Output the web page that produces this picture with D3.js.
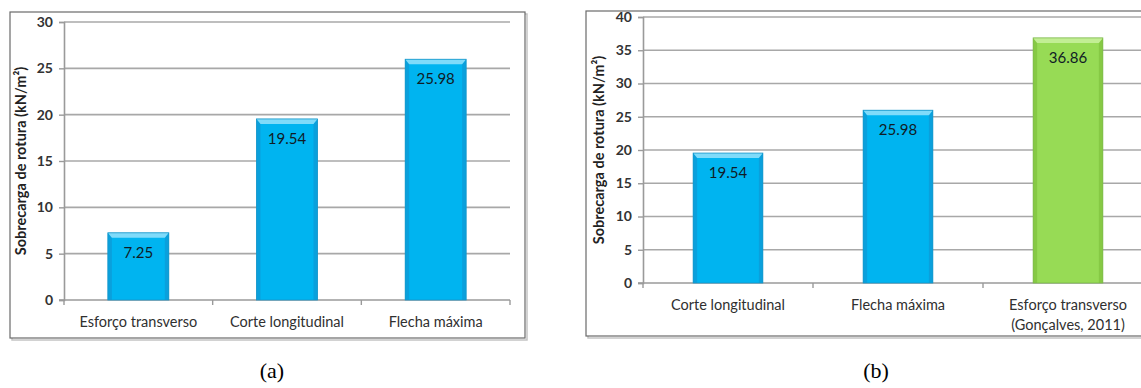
<!DOCTYPE html>
<html>
<head>
<meta charset="utf-8">
<script src="https://cdn.jsdelivr.net/npm/d3@7/dist/d3.min.js"></script>
<style>
  html, body { margin: 0; padding: 0; background: #ffffff; }
  svg { display: block; }
</style>
</head>
<body>
<svg id="fig" width="1141" height="388"></svg>
<script>
// ---- Data -------------------------------------------------------------
const panelACategories = ["Esforço transverso", "Corte longitudinal", "Flecha máxima"];
const panelAValues = [7.25, 19.54, 25.98];
const panelATicks = [0, 5, 10, 15, 20, 25, 30];

const panelBCategories = ["Corte longitudinal", "Flecha máxima", "Esforço transverso\n(Gonçalves, 2011)"];
const panelBValues = [19.54, 25.98, 36.86];
const panelBTicks = [0, 5, 10, 15, 20, 25, 30, 35, 40];

const yAxisTitle = "Sobrecarga de rotura (kN/m²)";
const captions = ["(a)", "(b)"];

// ---- Styles ------------------------------------------------------------
const FONT = "Lato, 'Open Sans', sans-serif";
const palette = {
  blue:  { face: "#00b4f0", top: "#7fdbfa", side: "#0aa0dc", edge: "#1795c8" },
  green: { face: "#97db55", top: "#c2ee94", side: "#86c944", edge: "#7cb84a" }
};

const svg = d3.select("#fig");

function drawPanel(cfg) {
  const g = svg.append("g");

  // frame with a soft drop shadow
  g.append("rect")
    .attr("x", cfg.frame.x + 2).attr("y", cfg.frame.y + 2)
    .attr("width", cfg.frame.w).attr("height", cfg.frame.h)
    .attr("fill", "none").attr("stroke", "#c4c4c4").attr("stroke-width", 1.5);
  g.append("rect")
    .attr("x", cfg.frame.x).attr("y", cfg.frame.y)
    .attr("width", cfg.frame.w).attr("height", cfg.frame.h)
    .attr("fill", "#ffffff").attr("stroke", "#6a6a6a").attr("stroke-width", 1.2);

  const x = d3.scaleBand()
    .domain(cfg.categories)
    .range([cfg.plot.x0, cfg.plot.x1])
    .paddingInner(0.59).paddingOuter(0.295);
  const y = d3.scaleLinear()
    .domain([0, d3.max(cfg.ticks)])
    .range([cfg.plot.y0, cfg.plot.y1]);

  // horizontal gridlines
  g.append("g").selectAll("line")
    .data(cfg.ticks.filter(t => t > 0))
    .join("line")
    .attr("x1", cfg.plot.x0).attr("x2", cfg.plot.x1)
    .attr("y1", d => y(d)).attr("y2", d => y(d))
    .attr("stroke", "#a8a8a8").attr("stroke-width", 1.6);

  // y axis
  const yAxis = g.append("g")
    .attr("transform", `translate(${cfg.plot.x0},0)`)
    .call(d3.axisLeft(y).tickValues(cfg.ticks).tickSize(5).tickPadding(6).tickFormat(d3.format("d")));
  yAxis.select(".domain").attr("stroke", "#9a9a9a").attr("stroke-width", 1.6);
  yAxis.selectAll(".tick line").attr("stroke", "#9a9a9a").attr("stroke-width", 1.4);
  yAxis.selectAll(".tick text")
    .attr("font-family", FONT).attr("font-size", 14).attr("font-weight", "bold")
    .attr("fill", "#333333");

  // x axis: ticks on band boundaries
  const xAxis = g.append("g")
    .attr("transform", `translate(0,${cfg.plot.y0})`);
  xAxis.append("line")
    .attr("x1", cfg.plot.x0 - 5).attr("x2", cfg.plot.x1)
    .attr("stroke", "#9a9a9a").attr("stroke-width", 1.6);
  const step = x.step();
  const bounds = d3.range(cfg.categories.length + 1).map(i => cfg.plot.x0 + i * step);
  xAxis.selectAll("line.tk")
    .data(bounds)
    .join("line").attr("class", "tk")
    .attr("x1", d => d).attr("x2", d => d)
    .attr("y1", 0).attr("y2", 5)
    .attr("stroke", "#9a9a9a").attr("stroke-width", 1.4);

  // category labels (may span two lines)
  xAxis.selectAll("text.cat")
    .data(cfg.categories)
    .join("text").attr("class", "cat")
    .attr("x", d => x(d) + x.bandwidth() / 2)
    .attr("y", 27)
    .attr("text-anchor", "middle")
    .attr("font-family", FONT).attr("font-size", 14.5)
    .attr("fill", "#303030")
    .each(function (d) {
      const lines = d.split("\n");
      d3.select(this).selectAll("tspan")
        .data(lines).join("tspan")
        .attr("x", x(d) + x.bandwidth() / 2)
        .attr("dy", (l, i) => i === 0 ? 0 : 20)
        .text(l => l);
    });

  // bars with bevelled edges
  const bars = g.append("g").selectAll("g.bar")
    .data(cfg.categories.map((c, i) => ({ c, v: cfg.values[i] })))
    .join("g").attr("class", "bar");

  bars.each(function (d) {
    const col = d.c === cfg.highlight ? palette.green : palette.blue;
    const bx = x(d.c), bw = x.bandwidth();
    const top = y(d.v), bot = y(0);
    const b = 4, bt = 5;
    const sel = d3.select(this);
    sel.append("rect")
      .attr("x", bx).attr("y", top).attr("width", bw).attr("height", bot - top)
      .attr("fill", col.face);
    sel.append("polygon")
      .attr("points", [[bx, top], [bx + b, top + bt], [bx + b, bot], [bx, bot]].join(" "))
      .attr("fill", col.side);
    sel.append("polygon")
      .attr("points", [[bx + bw, top], [bx + bw - b, top + bt], [bx + bw - b, bot], [bx + bw, bot]].join(" "))
      .attr("fill", col.side);
    sel.append("polygon")
      .attr("points", [[bx, top], [bx + bw, top], [bx + bw - b, top + bt], [bx + b, top + bt]].join(" "))
      .attr("fill", col.top);
    sel.append("rect")
      .attr("x", bx).attr("y", top).attr("width", bw).attr("height", bot - top)
      .attr("fill", "none").attr("stroke", col.edge).attr("stroke-width", 0.8);
    sel.append("text")
      .attr("x", bx + bw / 2).attr("y", top + 25)
      .attr("text-anchor", "middle")
      .attr("font-family", FONT).attr("font-size", 15)
      .attr("fill", "#101c26")
      .text(d3.format(".2f")(d.v));
  });

  // y axis title
  g.append("text")
    .attr("transform", `translate(${cfg.titleX},${(cfg.plot.y0 + cfg.plot.y1) / 2}) rotate(-90)`)
    .attr("text-anchor", "middle").attr("dominant-baseline", "middle")
    .attr("font-family", FONT).attr("font-size", 14.5).attr("font-weight", "bold")
    .attr("fill", "#222222")
    .text(yAxisTitle);
}

drawPanel({
  frame: { x: 10, y: 12, w: 515, h: 326 },
  plot: { x0: 64, x1: 510, y0: 300, y1: 22 },
  categories: panelACategories, values: panelAValues, ticks: panelATicks,
  titleX: 22, highlight: null
});

drawPanel({
  frame: { x: 586, y: 11, w: 600, h: 325 },
  plot: { x0: 643, x1: 1153, y0: 283, y1: 17 },
  categories: panelBCategories, values: panelBValues, ticks: panelBTicks,
  titleX: 600, highlight: panelBCategories[2]
});

// panel captions
svg.selectAll("text.caption")
  .data(captions)
  .join("text").attr("class", "caption")
  .attr("x", (d, i) => [272, 876][i])
  .attr("y", 378)
  .attr("text-anchor", "middle")
  .attr("font-family", "'Liberation Serif', 'Times New Roman', serif")
  .attr("font-size", 22)
  .attr("fill", "#000000")
  .text(d => d);
</script>
</body>
</html>
